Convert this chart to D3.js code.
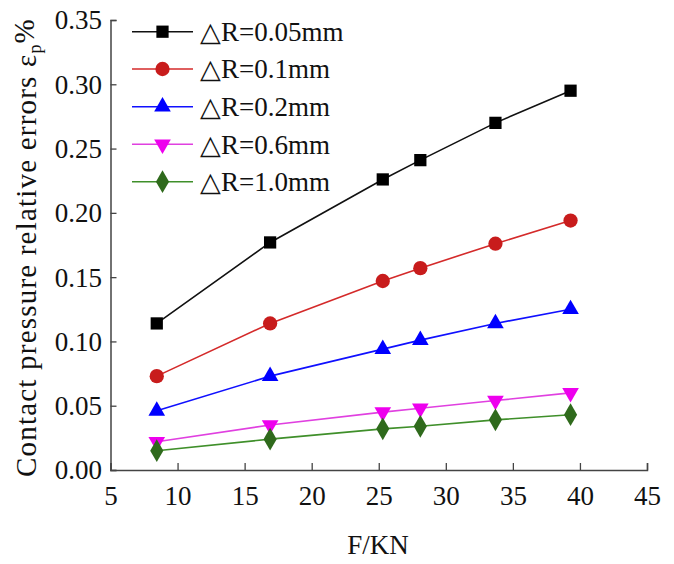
<!DOCTYPE html>
<html><head><meta charset="utf-8">
<script src="https://cdn.jsdelivr.net/npm/d3@7"></script>
<style>body{margin:0;background:#fff}svg{display:block}text{font-family:"Liberation Serif","Times New Roman",serif;fill:#111}</style>
</head><body><svg id="c" width="674" height="564"></svg>
<script>
const forces = [8.45, 16.9, 25.3, 28.1, 33.7, 39.3];
const seriesNames = ["△R=0.05mm","△R=0.1mm","△R=0.2mm","△R=0.6mm","△R=1.0mm"];
const s005 = [0.114, 0.177, 0.226, 0.241, 0.270, 0.295];
const s01  = [0.073, 0.114, 0.147, 0.157, 0.176, 0.194];
const s02  = [0.046, 0.073, 0.094, 0.101, 0.114, 0.125];
const s06  = [0.022, 0.035, 0.045, 0.048, 0.054, 0.060];
const s10  = [0.015, 0.024, 0.032, 0.034, 0.039, 0.043];
const xTicks = [5,10,15,20,25,30,35,40,45];
const yTicks = [0,0.05,0.10,0.15,0.20,0.25,0.30,0.35];

const styles = [
  {line:"#111", fill:"#000", sym:d3.symbolSquare, size:150},
  {line:"#d42a2a", fill:"#c81c1c", sym:d3.symbolCircle, size:160},
  {line:"#1010ff", fill:"#0000ff", sym:d3.symbolTriangle, size:120},
  {line:"#e040e0", fill:"#ee00ee", sym:d3.symbolTriangle, size:120, rot:180},
  {line:"#3f8f2a", fill:"#2f6a1c", sym:d3.symbolDiamond, size:150}
];
const allSeries = [s005, s01, s02, s06, s10];
const FS = 27;

const svg = d3.select("#c");
const x = d3.scaleLinear().domain([5,45]).range([110.5,647]);
const y = d3.scaleLinear().domain([0,0.35]).range([470,20]);
const axisColor = "#444";

// axes
const gx = svg.append("g").attr("transform","translate(0,470)")
  .call(d3.axisBottom(x).tickValues(xTicks).tickSize(-7).tickPadding(12).tickFormat(d3.format("d")));
const gy = svg.append("g").attr("transform","translate(110.5,0)")
  .call(d3.axisLeft(y).tickValues(yTicks).tickSize(-6).tickPadding(8.5).tickFormat(d3.format(".2f")));
[gx,gy].forEach(g=>{
  g.select(".domain").attr("stroke",axisColor).attr("stroke-width",1.5);
  g.selectAll(".tick line").attr("stroke",axisColor).attr("stroke-width",1.3);
  g.selectAll(".tick text").attr("font-size",FS).attr("font-family","Liberation Serif").attr("fill","#111");
});
gx.selectAll(".tick text").attr("y",35).attr("dy",0);
gy.selectAll(".tick text").attr("dy","0.33em");

// axis titles
svg.append("text").attr("x",378).attr("y",554).attr("text-anchor","middle")
  .attr("font-size",FS).text("F/KN");
const yl = svg.append("text").attr("transform","translate(36,247.5) rotate(-90)")
  .attr("text-anchor","middle").attr("font-size",29);
yl.append("tspan").text("Contact pressure relative errors ε");
yl.append("tspan").attr("font-size",18).attr("dy",5).text("p");
yl.append("tspan").attr("dy",-7).text("%");
// stretch the title to span the same length as in the reference
const curLen = yl.node().getComputedTextLength();
const nChars = 36;
yl.attr("letter-spacing", Math.max(0,(459-curLen)/nChars));

// series
const line = d3.line().x((d,i)=>x(forces[i])).y(d=>y(d));
allSeries.forEach((s,k)=>{
  const st = styles[k];
  svg.append("path").datum(s).attr("d",line).attr("fill","none")
    .attr("stroke",st.line).attr("stroke-width",1.6);
  svg.append("g").selectAll("path").data(s).join("path")
    .attr("d",d3.symbol().type(st.sym).size(st.size))
    .attr("transform",(d,i)=>`translate(${x(forces[i])},${y(d)})${st.rot?` rotate(${st.rot})`:""}`)
    .attr("fill",st.fill);
});

// legend
const lg = svg.append("g");
const legY = [31.7, 69, 106.7, 144.3, 181.7];
seriesNames.forEach((name,k)=>{
  const st = styles[k];
  const g = lg.append("g").attr("transform",`translate(0,${legY[k]})`);
  g.append("line").attr("x1",132).attr("x2",193).attr("y1",0).attr("y2",0)
    .attr("stroke",st.line).attr("stroke-width",1.6);
  g.append("path").attr("d",d3.symbol().type(st.sym).size(st.size)())
    .attr("transform",`translate(162.5,0)${st.rot?` rotate(${st.rot})`:""}`).attr("fill",st.fill);
  g.append("text").attr("x",200).attr("y",0).attr("dy","0.35em").attr("font-size",FS).text(name);
});
</script></body></html>
